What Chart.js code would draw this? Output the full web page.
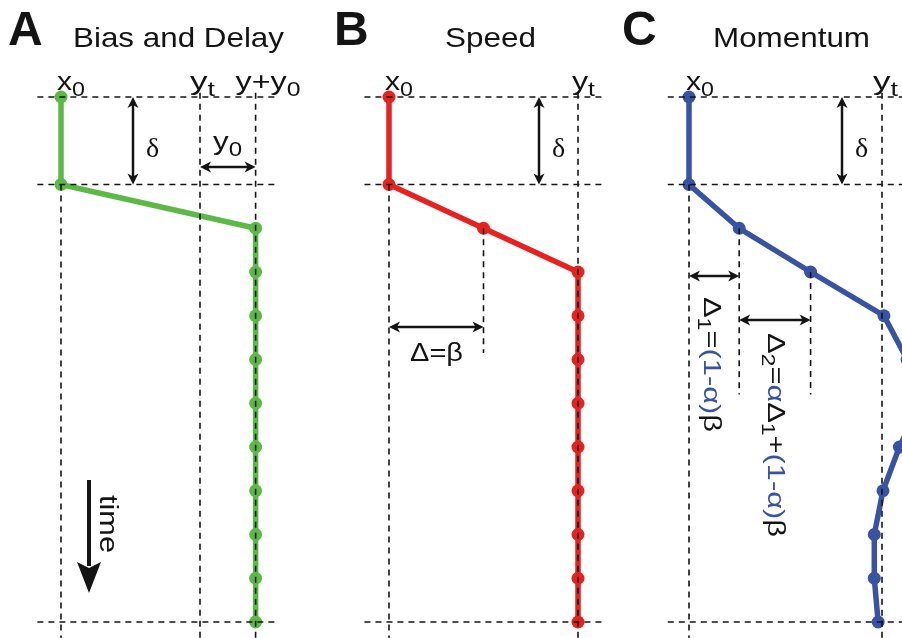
<!DOCTYPE html>
<html>
<head>
<meta charset="utf-8">
<title>Bias and Delay / Speed / Momentum</title>
<script src="https://cdn.jsdelivr.net/npm/chart.js@4"></script>
<style>
  html, body { margin: 0; padding: 0; background: #fff; }
  #wrap { position: relative; width: 902px; height: 638px; }
</style>
</head>
<body>
<div id="wrap"><canvas id="chart" width="902" height="638"></canvas></div>
<script>
// time steps of the response (nothing is sampled at t = 1)
const timeSteps = [0, 2, 3, 4, 5, 6, 7, 8, 9, 10, 11, 12];

// response position in units of the target step (x0 = 0, yt = 1)
const biasDelay = [0, 0, 1.4, 1.4, 1.4, 1.4, 1.4, 1.4, 1.4, 1.4, 1.4, 1.4];
const speed = [0, 0, 0.5, 1, 1, 1, 1, 1, 1, 1, 1, 1];
const momentum = [0, 0, 0.26, 0.63, 1.01, 1.13, 1.2, 1.09, 1.005, 0.96, 0.96, 0.98];

const startPos = 0;    // x0
const targetPos = 1;   // yt
const delayStep = 2;   // first step after the delay δ
const lastStep = 12;

const panelTitles = ['Bias and Delay', 'Speed', 'Momentum'];
const panelLetters = ['A', 'B', 'C'];

const GREEN = '#5cb946';
const RED = '#e8211f';
const BLUE = '#3953a4';
const INK = '#141414';

const W = 902, H = 638;
const ROW_TOP = 97, ROW_STEP = 43.75;

// linear axis that puts value 0 at px0 and value 1 at px1
function xAxis(px0, px1) {
  const unit = px1 - px0;
  return { type: 'linear', axis: 'x', display: false, bounds: 'data',
    min: -px0 / unit, max: (W - px0) / unit };
}

function series(values, color, axis) {
  return {
    data: timeSteps.map((t, i) => ({ x: values[i], y: t })),
    xAxisID: axis,
    borderColor: color,
    backgroundColor: color,
    borderWidth: 5.5,
    borderCapStyle: 'round',
    pointRadius: 6.5,
    pointBorderWidth: 0,
    pointBackgroundColor: color,
    tension: 0,
    order: 1
  };
}

function guide(axis, x1, y1, x2, y2) {
  return {
    data: [{ x: x1, y: y1 }, { x: x2, y: y2 }],
    xAxisID: axis,
    borderColor: INK,
    borderWidth: 1.6,
    borderDash: [6, 5],
    pointRadius: 0,
    tension: 0,
    order: 0
  };
}

const BOTTOM = 12.6;
const guides = [];
// horizontal guides at start, end of delay and last step
[['xA', -0.17, 1.55], ['xB', -0.13, 1.14], ['xC', -0.11, 1.3]].forEach(([ax, a, b]) => {
  [0, delayStep, lastStep].forEach(t => guides.push(guide(ax, a, t, b, t)));
  guides.push(guide(ax, startPos, delayStep, startPos, BOTTOM));
  guides.push(guide(ax, targetPos, -0.1, targetPos, BOTTOM));
});
guides.push(guide('xA', biasDelay[2], -0.1, biasDelay[2], BOTTOM));
guides.push(guide('xB', speed[2], 3, speed[2], 5.85));
guides.push(guide('xC', momentum[2], 3, momentum[2], 6.8));
guides.push(guide('xC', momentum[3], 4, momentum[3], 6.8));

function fontOf(size, family, weight) {
  return (weight || 'normal') + ' ' + size + 'px ' + (family || '"Liberation Sans", Arial, sans-serif');
}

// text made of parts {t, sub, color}; optionally stretched to a length and rotated
function drawText(ctx, parts, x, y, o) {
  const size = o.size, subSize = o.subSize || Math.round(size * 0.76);
  let total = 0;
  parts.forEach(p => {
    ctx.font = fontOf(p.sub ? subSize : size, p.family || o.family, o.weight);
    p.w = ctx.measureText(p.t).width;
    total += p.w;
  });
  const sx = o.width ? o.width / total : 1;
  ctx.save();
  ctx.translate(x, y);
  if (o.rotate) ctx.rotate(o.rotate);
  ctx.scale(sx, 1);
  ctx.textBaseline = 'alphabetic';
  let cx = 0;
  parts.forEach(p => {
    ctx.font = fontOf(p.sub ? subSize : size, p.family || o.family, o.weight);
    ctx.fillStyle = p.color || INK;
    ctx.fillText(p.t, cx, p.sub ? size * 0.24 : 0);
    cx += p.w;
  });
  ctx.restore();
}

function arrowHead(ctx, x, y, ang) {
  const len = 11, half = 5.5, notch = 3;
  const c = Math.cos(ang), s = Math.sin(ang);
  ctx.beginPath();
  ctx.moveTo(x, y);
  ctx.lineTo(x - len * c - half * s, y - len * s + half * c);
  ctx.lineTo(x - (len - notch) * c, y - (len - notch) * s);
  ctx.lineTo(x - len * c + half * s, y - len * s - half * c);
  ctx.closePath();
  ctx.fill();
}

function doubleArrow(ctx, x1, y1, x2, y2) {
  const ang = Math.atan2(y2 - y1, x2 - x1);
  const c = Math.cos(ang), s = Math.sin(ang);
  ctx.save();
  ctx.strokeStyle = INK;
  ctx.fillStyle = INK;
  ctx.lineWidth = 2.5;
  ctx.beginPath();
  ctx.moveTo(x1 + 7 * c, y1 + 7 * s);
  ctx.lineTo(x2 - 7 * c, y2 - 7 * s);
  ctx.stroke();
  arrowHead(ctx, x2, y2, ang);
  arrowHead(ctx, x1, y1, ang + Math.PI);
  ctx.restore();
}

const annotate = {
  id: 'annotate',
  afterDraw(chart) {
    const { ctx, scales } = chart;
    const xa = v => scales.xA.getPixelForValue(v);
    const xb = v => scales.xB.getPixelForValue(v);
    const xc = v => scales.xC.getPixelForValue(v);
    const ty = t => scales.y.getPixelForValue(t);

    // panel letters and titles
    const letterX = [8, 334, 622];
    panelLetters.forEach((l, i) => drawText(ctx, [{ t: l }], letterX[i], 45, { size: 48, weight: 'bold' }));
    const titleX = [73, 445, 713], titleW = [211, 91, 157];
    panelTitles.forEach((t, i) => drawText(ctx, [{ t }], titleX[i], 47, { size: 28, width: titleW[i] }));

    // position labels above the first row
    const lab = { size: 26, subSize: 20 };
    const x0 = [{ t: 'x' }, { t: '0', sub: true }];
    const yt = [{ t: 'y' }, { t: 't', sub: true }];
    drawText(ctx, x0, xa(startPos) - 4, 90, { ...lab, width: 28 });
    drawText(ctx, yt, xa(targetPos) - 10, 90, { ...lab, width: 25 });
    drawText(ctx, [{ t: 'y+y' }, { t: '0', sub: true }], xa(biasDelay[2]) - 20, 90, { ...lab, width: 65 });
    drawText(ctx, x0, xb(startPos) - 4, 90, { ...lab, width: 28 });
    drawText(ctx, yt, xb(targetPos) - 6, 90, { ...lab, width: 23 });
    drawText(ctx, x0, xc(startPos) - 3, 90, { ...lab, width: 28 });
    drawText(ctx, yt, xc(targetPos) - 9, 90, { ...lab, width: 25 });

    // delay arrows
    [133, 539, 842].forEach(x => {
      doubleArrow(ctx, x, ty(0), x, ty(delayStep));
      drawText(ctx, [{ t: 'δ' }], x + 13, 157, { size: 28, family: '"Liberation Serif", serif' });
    });

    // bias arrow
    doubleArrow(ctx, xa(targetPos), 167, xa(biasDelay[2]), 167);
    drawText(ctx, [{ t: 'y' }, { t: '0', sub: true }], 213, 150, { ...lab, width: 29 });

    // speed step
    doubleArrow(ctx, xb(startPos), 327, xb(speed[2]), 327);
    drawText(ctx, [{ t: 'Δ=β' }], 410, 361, { size: 25, width: 53 });

    // momentum steps
    doubleArrow(ctx, xc(startPos), 276, xc(momentum[2]), 276);
    doubleArrow(ctx, xc(momentum[2]), 320, xc(momentum[3]), 320);
    const rot = { size: 24, subSize: 18, rotate: Math.PI / 2 };
    drawText(ctx, [
      { t: 'Δ' }, { t: '1', sub: true }, { t: '=' },
      { t: '(1-α)', color: BLUE }, { t: 'β' }
    ], 704, 297, { ...rot, width: 135 });
    drawText(ctx, [
      { t: 'Δ' }, { t: '2', sub: true }, { t: '=' }, { t: 'α', color: BLUE },
      { t: 'Δ' }, { t: '1', sub: true }, { t: '+' },
      { t: '(1-α)', color: BLUE }, { t: 'β' }
    ], 768, 333, { ...rot, width: 204 });

    // time arrow
    ctx.save();
    ctx.strokeStyle = INK;
    ctx.fillStyle = INK;
    ctx.lineWidth = 4;
    ctx.beginPath();
    ctx.moveTo(89, 480);
    ctx.lineTo(89, 566);
    ctx.stroke();
    ctx.beginPath();
    ctx.moveTo(89, 593);
    ctx.lineTo(77, 562);
    ctx.lineTo(89, 568);
    ctx.lineTo(101, 562);
    ctx.closePath();
    ctx.fill();
    ctx.restore();
    drawText(ctx, [{ t: 'time' }], 100, 495, { size: 26, rotate: Math.PI / 2, width: 58 });
  }
};

new Chart(document.getElementById('chart'), {
  type: 'line',
  data: {
    datasets: [
      ...guides,
      series(biasDelay, GREEN, 'xA'),
      series(speed, RED, 'xB'),
      series(momentum, BLUE, 'xC')
    ]
  },
  options: {
    responsive: false,
    animation: false,
    devicePixelRatio: 1,
    events: [],
    layout: { padding: 0, autoPadding: false },
    plugins: { legend: { display: false }, tooltip: { enabled: false } },
    scales: {
      xA: xAxis(61, 200),
      xB: xAxis(389, 578),
      xC: xAxis(689, 882),
      y: {
        type: 'linear', display: false, reverse: true, bounds: 'data',
        min: -ROW_TOP / ROW_STEP, max: (H - ROW_TOP) / ROW_STEP
      }
    }
  },
  plugins: [annotate]
});
</script>
</body>
</html>
